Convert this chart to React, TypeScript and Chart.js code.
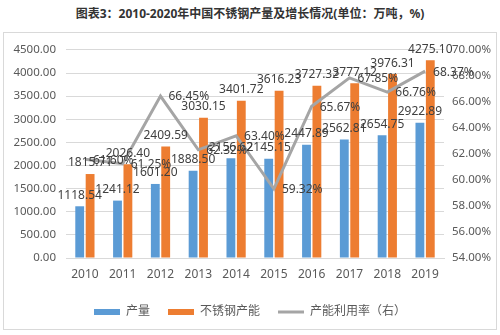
import { useEffect, useRef } from 'react';
import { Chart, registerables } from 'chart.js';
Chart.register(...registerables);

const titleText = '图表3：2010-2020年中国不锈钢产量及增长情况(单位：万吨，%)';
const years = ['2010', '2011', '2012', '2013', '2014', '2015', '2016', '2017', '2018', '2019'];
const production = [1118.54, 1241.12, 1601.2, 1888.5, 2156.62, 2145.15, 2447.89, 2562.81, 2654.75, 2922.89];
const capacity = [1815.71, 2026.4, 2409.59, 3030.15, 3401.72, 3616.23, 3727.32, 3777.12, 3976.31, 4275.1];
const utilization = [61.6, 61.25, 66.45, 62.32, 63.4, 59.32, 65.67, 67.85, 66.76, 68.37];
const seriesNames = ['产量', '不锈钢产能', '产能利用率（右）'];

const FONT = "'Noto Sans', 'Noto Sans CJK SC', sans-serif";
const TEXT = '#595959';

const labelPlugin = {
  id: 'valueLabels',
  afterDatasetsDraw(chart: any) {
    const ctx = chart.ctx;
    ctx.save();
    ctx.font = `12px ${FONT}`;
    ctx.fillStyle = '#404040';
    [0, 1].forEach((di) => {
      const meta = chart.getDatasetMeta(di);
      meta.data.forEach((el: any, i: number) => {
        const v = chart.data.datasets[di].data[i] as number;
        ctx.textAlign = 'center';
        ctx.textBaseline = 'bottom';
        ctx.fillText(v.toFixed(2), el.x, el.y - 5);
      });
    });
    const lm = chart.getDatasetMeta(2);
    lm.data.forEach((el: any, i: number) => {
      const v = chart.data.datasets[2].data[i] as number;
      ctx.textAlign = 'left';
      ctx.textBaseline = 'middle';
      ctx.fillText(v.toFixed(2) + '%', el.x + 8, el.y + 1);
    });
    ctx.restore();
  },
};

export default function App() {
  const ref = useRef<HTMLCanvasElement>(null);
  useEffect(() => {
    document.body.style.margin = '0';
    const chart = new Chart(ref.current!, {
      type: 'bar',
      data: {
        labels: years,
        datasets: [
          {
            label: seriesNames[0],
            data: production,
            backgroundColor: '#5B9BD5',
            yAxisID: 'y',
            order: 1,
            categoryPercentage: 0.55,
            barPercentage: 0.85,
          },
          {
            label: seriesNames[1],
            data: capacity,
            backgroundColor: '#ED7D31',
            yAxisID: 'y',
            order: 1,
            categoryPercentage: 0.55,
            barPercentage: 0.85,
          },
          {
            type: 'line',
            label: seriesNames[2],
            data: utilization,
            borderColor: '#A5A5A5',
            backgroundColor: '#A5A5A5',
            borderWidth: 3,
            pointRadius: 0,
            tension: 0,
            yAxisID: 'y1',
            order: 0,
          } as any,
        ],
      },
      options: {
        responsive: false,
        animation: false,
        layout: { padding: { top: 12, bottom: 1, left: 0, right: 0 } },
        plugins: {
          title: { display: false },
          tooltip: { enabled: false },
          legend: {
            position: 'bottom',
            labels: {
              usePointStyle: true,
              pointStyleWidth: 26,
              boxHeight: 6,
              padding: 18,
              color: TEXT,
              font: { family: FONT, size: 12 },
              generateLabels: (c: any) => {
                const items = (Chart.defaults.plugins.legend.labels as any).generateLabels(c);
                items.sort((a: any, b: any) => a.datasetIndex - b.datasetIndex);
                items.forEach((it: any) => {
                  if (it.datasetIndex === 2) {
                    it.pointStyle = 'line';
                    it.lineWidth = 3;
                    it.strokeStyle = '#A5A5A5';
                  } else {
                    it.pointStyle = 'rect';
                    it.lineWidth = 0;
                  }
                });
                return items;
              },
            },
          },
        },
        scales: {
          x: {
            grid: { display: false, drawTicks: false },
            border: { display: true, color: '#D9D9D9' },
            ticks: { color: TEXT, font: { family: FONT, size: 12 }, padding: 9 },
            afterFit: (s: any) => {
              s.height = 30;
            },
          },
          y: {
            position: 'left',
            min: 0,
            max: 4500,
            grid: { color: '#D9D9D9', drawTicks: false },
            border: { display: false },
            ticks: {
              stepSize: 500,
              padding: 10,
              color: TEXT,
              font: { family: FONT, size: 11.5 },
              callback: (v: any) => Number(v).toFixed(2),
            },
            afterFit: (s: any) => {
              s.width = 62;
            },
          },
          y1: {
            position: 'right',
            min: 54,
            max: 70,
            grid: { drawOnChartArea: false, drawTicks: false },
            border: { display: false },
            ticks: {
              stepSize: 2,
              padding: 8,
              color: TEXT,
              font: { family: FONT, size: 11.5 },
              callback: (v: any) => Number(v).toFixed(2) + '%',
            },
            afterFit: (s: any) => {
              s.width = 52;
            },
          },
        },
      },
      plugins: [labelPlugin],
    });
    return () => chart.destroy();
  }, []);
  return (
    <div style={{ position: 'relative', width: 500, height: 335, background: '#fff', fontFamily: FONT }}>
      <div
        style={{
          position: 'absolute',
          left: 0,
          top: 6,
          width: 500,
          textAlign: 'center',
          fontSize: 12,
          fontWeight: 'bold',
          color: '#333',
          lineHeight: '16px',
        }}
      >
        {titleText}
      </div>
      <div
        style={{
          position: 'absolute',
          left: 3,
          top: 32,
          width: 492,
          height: 296,
          border: '1px solid #D9D9D9',
        }}
      >
        <canvas ref={ref} width={492} height={296} style={{ display: 'block', width: 492, height: 296 }} />
      </div>
    </div>
  );
}
